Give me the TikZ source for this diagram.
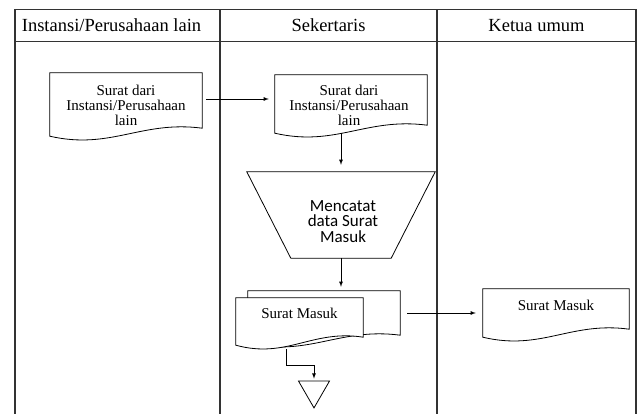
\documentclass[tikz,border=0pt]{standalone}
\usepackage{fontspec}
\setmainfont{Liberation Serif}
\newfontfamily\calibri{Carlito}
\usetikzlibrary{calc,shapes.geometric}

\newcommand{\dokumen}[1]{%
  \draw[garis,fill=white] (#1.south west) -- (#1.north west) -- (#1.north east) -- ($(#1.south east)+(0,-8)$)
    .. controls ($(#1.south west)!0.6!(#1.south east)+(0,-16)$) and ($(#1.south west)!0.4!(#1.south east)+(0,14)$) .. (#1.south west) -- cycle;}

\begin{document}
\begin{tikzpicture}[x=1pt,y=-1pt,
  tabel/.style={line width=1.2pt,draw=black!80},
  garis/.style={line width=0.8pt},
  panah/.style={draw,line width=0.8pt,-latex},
  dok/.style={rectangle,inner sep=0pt},
  teks/.style={align=center,inner sep=0pt,font=\fontsize{15}{15}\selectfont},
  judul/.style={anchor=base,font=\fontsize{18.5}{20}\selectfont}]

\useasboundingbox (0,0) rectangle (641,414);

\draw[tabel] (15,414) -- (15,9.5) -- (636,9.5) -- (636,414);
\draw[tabel] (15,41.5) -- (636,41.5);
\draw[tabel] (220,9.5) -- (220,414);
\draw[tabel] (437,9.5) -- (437,414);

\node[judul] (h1) at (111.5,32) {Instansi/Perusahaan lain};
\node[judul] (h2) at (328.5,32) {Sekertaris};
\node[judul] (h3) at (536.5,32) {Ketua umum};

\node[dok,minimum width=152pt,minimum height=63pt] (d1) at (126,104.5) {};
\node[dok,minimum width=152pt,minimum height=58pt] (d2) at (351,104) {};
\node[dok,minimum width=152pt,minimum height=52pt] (sm2) at (324,317) {};
\node[dok,minimum width=127pt,minimum height=47pt] (sm1) at (299.5,321.5) {};
\node[dok,minimum width=146pt,minimum height=48pt] (km1) at (556,313) {};

\dokumen{d1}
\dokumen{d2}
\dokumen{sm2}
\dokumen{sm1}
\dokumen{km1}

\node[teks] (d1t) at (126,105) {Surat dari\\Instansi/Perusahaan\\lain};
\node[teks] (d2t) at (349,105) {Surat dari\\Instansi/Perusahaan\\lain};
\node[teks] (sm1t) at (299.5,313) {Surat Masuk};
\node[teks] (km1t) at (556,305) {Surat Masuk};

\node[dok,minimum width=188pt,minimum height=86pt] (t1) at (341,215) {};
\draw[garis] (t1.north west) -- (t1.north east) -- ($(t1.south east)+(-44,0)$) -- ($(t1.south west)+(44,0)$) -- cycle;
\node[align=center,inner sep=0pt,font=\calibri\fontsize{17}{15.5}\selectfont] (t1t) at (343,221.5) {Mencatat\\data Surat\\Masuk};

\node[regular polygon,regular polygon sides=3,shape border rotate=180,draw,garis,
  minimum size=35.8pt,inner sep=0pt] (arsip) at (314,390) {};

\coordinate (a1) at ($(d1.east)+(4,-5.5)$);
\draw[panah,shorten >=6pt] (a1) -- (a1 -| d2.west);
\draw[panah,shorten >=7pt] (t1.north |- d2.south) -- (t1.north);
\draw[panah,shorten >=4pt] (t1.south) -- (t1.south |- sm2.north);
\coordinate (a4) at ($(sm2.east)+(7,-4)$);
\draw[panah,shorten >=7pt] (a4) -- (a4 -| km1.west);
\coordinate (a5) at ($(sm1.south)+(-13.5,4)$);
\draw[panah,shorten >=2pt] (a5) -- ++(0,16) -| (arsip.north);
\end{tikzpicture}
\end{document}
